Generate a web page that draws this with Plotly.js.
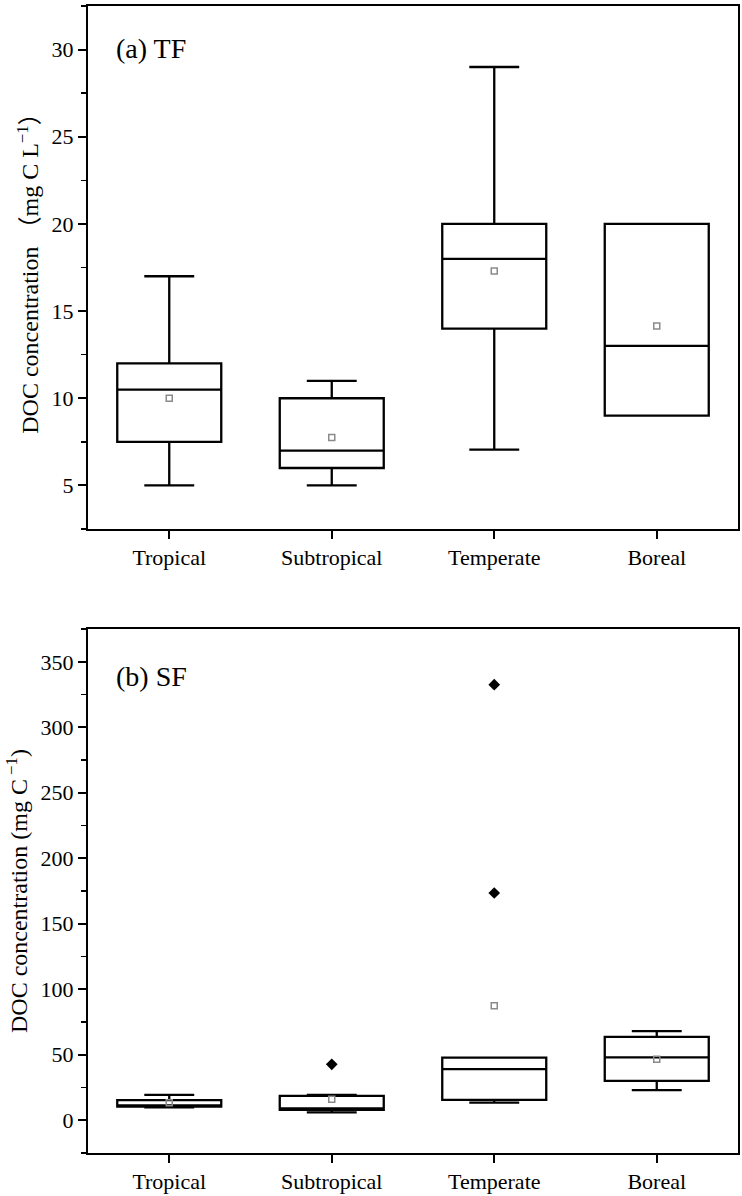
<!DOCTYPE html>
<html>
<head>
<meta charset="utf-8">
<script src="https://cdn.plot.ly/plotly-3.0.1.min.js"></script>
<style>
  html, body { margin: 0; padding: 0; background: #fff; }
  #chart { width: 742px; height: 1196px; }
</style>
</head>
<body>
<div id="chart"></div>
<script>
// ---- Data ----
const categories = ['Tropical', 'Subtropical', 'Temperate', 'Boreal'];

// (a) TF
const tfLower  = [5, 5, 7.05, 9];
const tfQ1     = [7.5, 6, 14, 9];
const tfMedian = [10.5, 7, 18, 13];
const tfQ3     = [12, 10, 20, 20];
const tfUpper  = [17, 11, 29, 20];
const tfMean   = [10, 7.75, 17.3, 14.15];

// (b) SF
const sfLower  = [9.8, 6, 13.5, 23];
const sfQ1     = [10.5, 8, 15.5, 30];
const sfMedian = [11, 9, 39, 48];
const sfQ3     = [15.3, 18.6, 47.8, 63.7];
const sfUpper  = [19.3, 19.3, 47.8, 68];
const sfMean   = [13.3, 16, 87.5, 46.6];
const sfOutlierCats = ['Subtropical', 'Temperate', 'Temperate'];
const sfOutliers    = [42.7, 173.5, 332.5];

// ---- Styling ----
const FONT = 'Liberation Serif, Times New Roman, Noto Sans CJK SC, serif';
const BLACK = '#000';

function boxTrace(q1, med, q3, lo, hi, xa, ya) {
  return {
    type: 'box',
    x: categories,
    q1: q1, median: med, q3: q3,
    lowerfence: lo, upperfence: hi,
    boxpoints: false,
    width: 0.64,
    whiskerwidth: 0.48,
    line: { color: BLACK, width: 2.3 },
    fillcolor: 'rgba(0,0,0,0)',
    xaxis: xa, yaxis: ya,
    hoverinfo: 'skip'
  };
}
function meanTrace(means, xa, ya) {
  return {
    type: 'scatter', mode: 'markers',
    x: categories, y: means,
    marker: { symbol: 'square-open', size: 6, color: '#8a8a8a', line: { width: 1.5, color: '#8a8a8a' } },
    xaxis: xa, yaxis: ya, hoverinfo: 'skip'
  };
}

const traces = [
  boxTrace(tfQ1, tfMedian, tfQ3, tfLower, tfUpper, 'x', 'y'),
  meanTrace(tfMean, 'x', 'y'),
  boxTrace(sfQ1, sfMedian, sfQ3, sfLower, sfUpper, 'x2', 'y2'),
  meanTrace(sfMean, 'x2', 'y2'),
  {
    type: 'scatter', mode: 'markers',
    x: sfOutlierCats, y: sfOutliers,
    marker: { symbol: 'diamond', size: 9, color: BLACK },
    xaxis: 'x2', yaxis: 'y2', hoverinfo: 'skip'
  }
];

function xAxis(domain, anchor) {
  return {
    domain: domain, anchor: anchor,
    type: 'category',
    categoryorder: 'array', categoryarray: categories,
    range: [-0.5, 3.5],
    showline: true, linecolor: BLACK, linewidth: 2, mirror: true,
    ticks: 'outside', ticklen: 8, tickwidth: 2, tickcolor: BLACK,
    showgrid: false, zeroline: false,
    tickfont: { family: FONT, size: 22, color: BLACK }
  };
}
function yAxis(domain, anchor, range, dtick, minorDtick, title) {
  return {
    domain: domain, anchor: anchor,
    range: range, dtick: dtick, tick0: 0,
    showline: true, linecolor: BLACK, linewidth: 2, mirror: true,
    ticks: 'outside', ticklen: 8, tickwidth: 2, tickcolor: BLACK,
    minor: { dtick: minorDtick, tick0: 0, ticks: 'outside', ticklen: 5, tickwidth: 1.5, tickcolor: BLACK, showgrid: false },
    showgrid: false, zeroline: false,
    tickfont: { family: FONT, size: 22, color: BLACK },
    title: { text: title, font: { family: FONT, size: 24, color: BLACK }, standoff: 6 }
  };
}

const layout = {
  width: 742, height: 1196,
  margin: { l: 88, r: 4, t: 6, b: 43 },
  paper_bgcolor: '#fff', plot_bgcolor: '#fff',
  showlegend: false,
  xaxis: xAxis([0, 1], 'y'),
  yaxis: yAxis([0.544, 1], 'x', [2.5, 32.5], 5, 2.5, 'DOC concentration （mg C L<sup>−1</sup>）'),
  xaxis2: xAxis([0, 1], 'y2'),
  yaxis2: yAxis([0, 0.4568], 'x2', [-25, 375], 50, 25, 'DOC concentration (mg C<sup> −1</sup>)'),
  annotations: [
    { text: '(a) TF', xref: 'x domain', yref: 'y domain', x: 0.04, y: 0.918, xanchor: 'left', yanchor: 'middle',
      showarrow: false, font: { family: FONT, size: 28, color: BLACK } },
    { text: '(b) SF', xref: 'x2 domain', yref: 'y2 domain', x: 0.04, y: 0.909, xanchor: 'left', yanchor: 'middle',
      showarrow: false, font: { family: FONT, size: 28, color: BLACK } }
  ]
};

Plotly.newPlot('chart', traces, layout, { staticPlot: true, displayModeBar: false });
</script>
</body>
</html>
